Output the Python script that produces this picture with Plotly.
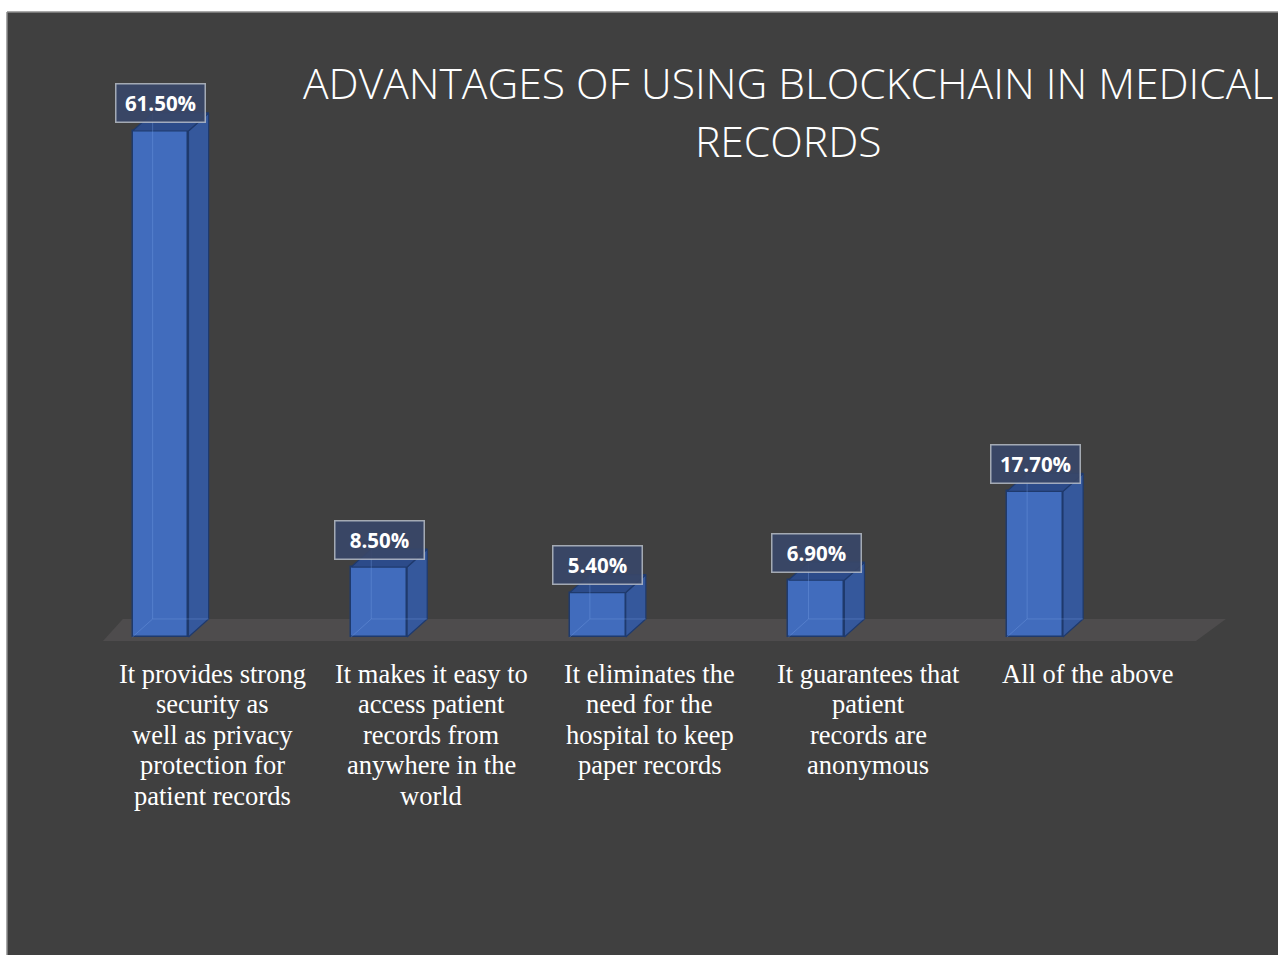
import plotly.graph_objects as go

# Survey results: advantages of using blockchain in medical records
categories = [
    ["It provides strong", "security as", "well as privacy", "protection for", "patient records"],
    ["It makes it easy to", "access patient", "records from", "anywhere in the", "world"],
    ["It eliminates the", "need for the", "hospital to keep", "paper records"],
    ["It guarantees that", "patient", "records are", "anonymous"],
    ["All of the above"],
]
values = [61.5, 8.5, 5.4, 6.9, 17.7]
value_labels = [f"{v:.2f}%" for v in values]

title_lines = ["ADVANTAGES OF USING BLOCKCHAIN IN MEDICAL", "RECORDS"]

# styling / pseudo-3D geometry (axis units)
BG = "#404040"
FRONT = "#416cbd"
SIDE = "#35589c"
TOP = "#2c4b8a"
EDGE = "#1f3a6d"
FLOOR = "#4e4c4d"
BAR_W = 0.256
DX = 0.092      # depth offset along x
DY = 2.19       # depth offset along y

W, H = 1278, 955
ML, MT = 7, 12
xs = list(range(len(values)))

# axis ranges chosen so the category spacing and value scale fit the page
px_per_unit_x = 218.625
px_per_unit_y = 8.228
x0 = -(160.5 - ML) / px_per_unit_x
x1 = x0 + (W - ML) / px_per_unit_x
y1 = (637 - MT) / px_per_unit_y
y0 = -(H - 637) / px_per_unit_y


def y_from_px(py):
    return (637 - py) / px_per_unit_y


def paper_y(py):
    return 1 - (py - MT) / (H - MT)


fig = go.Figure()

# front faces
fig.add_trace(go.Bar(
    x=xs, y=values, width=BAR_W,
    marker=dict(color=FRONT, line=dict(color=EDGE, width=1.5)),
    hoverinfo="skip", showlegend=False,
))

# side and top faces
for x, v in zip(xs, values):
    r = x + BAR_W / 2
    l = x - BAR_W / 2
    fig.add_trace(go.Scatter(
        x=[r, r + DX, r + DX, r, r], y=[0, DY, v + DY, v, 0],
        mode="lines", fill="toself", fillcolor=SIDE,
        line=dict(color=EDGE, width=1.2), hoverinfo="skip", showlegend=False,
    ))
    fig.add_trace(go.Scatter(
        x=[l, r, r + DX, l + DX, l], y=[v, v, v + DY, v + DY, v],
        mode="lines", fill="toself", fillcolor=TOP,
        line=dict(color=EDGE, width=1.2), hoverinfo="skip", showlegend=False,
    ))
    # faint hidden edges seen through the translucent box
    fig.add_trace(go.Scatter(
        x=[l + DX, l + DX, None, l, l + DX, r + DX],
        y=[v + DY, DY, None, 0, DY, DY],
        mode="lines", line=dict(color="rgba(120,160,230,0.35)", width=1),
        hoverinfo="skip", showlegend=False,
    ))

# floor of the 3D chart
x_lo, x_hi = xs[0] - 0.263, xs[-1] + 0.736
floor_path = (f"M {x_lo},-0.49 L {x_hi},-0.49 L {x_hi + 0.137},{DY} "
              f"L {x_lo + 0.091},{DY} Z")
shapes = [dict(type="path", xref="x", yref="y", path=floor_path,
               fillcolor=FLOOR, line=dict(width=0), layer="below")]

# white page margin lines
shapes.append(dict(type="line", xref="paper", yref="paper", x0=0, x1=1, y0=1, y1=1,
                   line=dict(color="#8c8c8c", width=1.5)))
shapes.append(dict(type="line", xref="paper", yref="paper", x0=0, x1=0, y0=0, y1=1,
                   line=dict(color="#8c8c8c", width=1.5)))

annotations = []
# value labels
for x, v, t in zip(xs, values, value_labels):
    annotations.append(dict(
        x=x, y=v, xref="x", yref="y", text=f"<b>{t}</b>", showarrow=False,
        yshift=27.5, width=86, height=35, borderpad=1,
        bgcolor="rgba(56,70,104,0.92)", bordercolor="rgba(190,196,206,0.8)", borderwidth=1.5,
        font=dict(family="Open Sans", size=20.5, color="white"),
    ))
# category labels, one line at a time
for x, lines in zip(xs, categories):
    for k, line in enumerate(lines):
        annotations.append(dict(
            x=x + 0.238, y=y_from_px(673.5 + 30.6 * k), xref="x", yref="y",
            text=line, showarrow=False, xanchor="center", yanchor="middle",
            font=dict(family="Liberation Serif", size=26.5, color="white"),
        ))
# title
for py, line in zip([82, 140], title_lines):
    annotations.append(dict(
        x=(788 - ML) / (W - ML), y=paper_y(py), xref="paper", yref="paper",
        text=line, showarrow=False, xanchor="center", yanchor="middle",
        font=dict(family="Open Sans", size=42.6, color="white", weight=300),
    ))

fig.update_layout(
    width=W, height=H,
    margin=dict(l=ML, r=0, t=MT, b=0, pad=0),
    paper_bgcolor="white", plot_bgcolor=BG,
    xaxis=dict(range=[x0, x1], visible=False, fixedrange=True),
    yaxis=dict(range=[y0, y1], visible=False, fixedrange=True),
    shapes=shapes, annotations=annotations,
    bargap=0, showlegend=False,
)

fig.write_html("out.html")
